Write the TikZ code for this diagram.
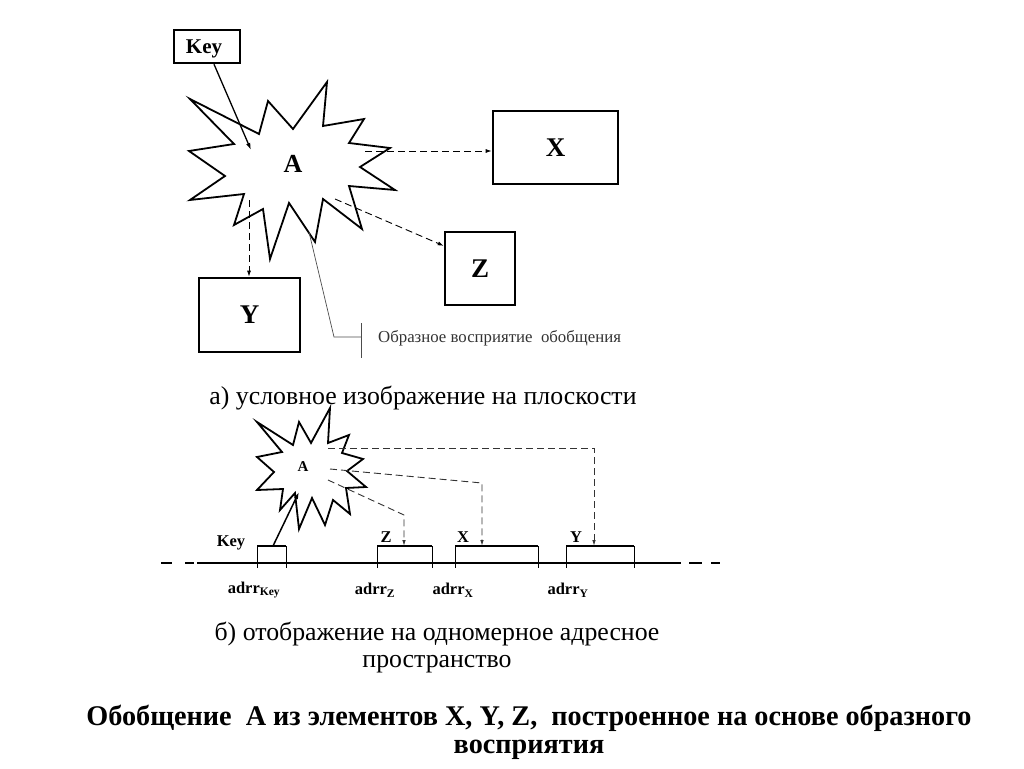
\documentclass[tikz,border=0pt]{standalone}
\usepackage{fontspec}
\setmainfont{Liberation Serif}
\newfontfamily\titlefont[FakeStretch=0.99]{Liberation Serif}
\usetikzlibrary{arrows.meta,calc}
\begin{document}
\begin{tikzpicture}[x=1pt,y=-1pt,
  bigbox/.style={draw,line width=2.6pt,inner sep=0pt,font=\bfseries\fontsize{27}{29}\selectfont},
  keybox/.style={draw,line width=2.4pt,inner sep=0pt,font=\bfseries\fontsize{21}{23}\selectfont},
  starline/.style={draw,line width=1.8pt,line join=miter,fill=white},
  darrow/.style={dash pattern=on 7pt off 4pt,line width=0.9pt,-{Latex[length=6pt,width=4pt]}},
  darrowlow/.style={dash pattern=on 7pt off 4pt,line width=0.9pt,draw=black!80,-{Latex[length=6pt,width=3.5pt]}},
  callout/.style={draw=black!70,line width=0.7pt},
  seg/.style={line width=2.6pt},
  tick/.style={line width=0.8pt},
  lowlab/.style={font=\bfseries\fontsize{16.5}{18}\selectfont,inner sep=0pt},
  adrlab/.style={font=\bfseries\fontsize{16.5}{18}\selectfont,inner sep=0pt},
  caption/.style={font=\fontsize{25.8}{27}\selectfont,align=center,inner sep=0pt},
  titletext/.style={inner sep=0pt,anchor=base,font=\titlefont\bfseries\fontsize{28.5}{30}\selectfont}
]
\useasboundingbox (0,0) rectangle (1024,768);

% ---------- part a ----------
\path[starline] (190,99) -- (259,134) -- (268,101) -- (293,129) -- (327,82) -- (323,126)
  -- (364,119) -- (349,143) -- (390,148) -- (360,167) -- (395,190) -- (349,186)
  -- (362,229) -- (323,199) -- (315,242) -- (289,203) -- (270,259) -- (263,209)
  -- (234,225) -- (244,194) -- (190,200) -- (225,176) -- (189,151) -- (234,144) -- cycle;
\node[font=\bfseries\fontsize{26}{28}\selectfont] (A) at (293,164) {A};

\node[keybox,minimum width=66pt,minimum height=33pt] (key) at (207,46.5) {};
\node[font=\bfseries\fontsize{21}{23}\selectfont,inner sep=0pt] (keytxt) at (204,49) {Key};
\node[bigbox,minimum width=125pt,minimum height=73pt] (X) at (555.5,147.5) {X};
\node[bigbox,minimum width=70pt,minimum height=73pt] (Z) at (480,268.5) {Z};
\node[bigbox,minimum width=101pt,minimum height=74pt] (Y) at (249.5,315) {Y};

\coordinate (keyin) at (251,150);
\coordinate (ax) at (365,151);
\coordinate (az) at (335,199);
\coordinate (ay) at (249,200);
\coordinate (cs) at (309,232);
\coordinate (cb) at (334,337);
\coordinate (cbar) at (361,337);

\draw[line width=1.3pt,-{Latex[length=7pt,width=4.5pt]}] ($(key.south)+(7,0)$) -- (keyin);
\draw[darrow] (ax) -- (ax -| X.west);
\draw[darrow] (az) -- ($(Z.north west)!0.2!(Z.south west)$);
\draw[darrow] (ay) -- (ay |- Y.north);

\draw[callout] (cs) -- (cb) -- (cbar);
\draw[callout] (361,323) -- (361,358);
\node[anchor=west,text=black!80,font=\fontsize{16.8}{18}\selectfont,inner sep=0pt] (cap) at (378,338) {Образное восприятие~~обобщения};

\node[caption] (capa) at (423,398) {а) условное изображение на плоскости};

% ---------- part b ----------
\draw[seg] (197,563) -- (681,563);
\draw[seg] (161,563) -- (172,563);
\draw[seg] (185,563) -- (194,563);
\draw[seg] (689,563) -- (702,563);
\draw[seg] (711,563) -- (720,563);

% segments with ticks
\foreach \a/\b in {257/286,377/432,455/538,566/634}{
  \draw[line width=2.8pt] (\a,546) -- (\b,546);
  \draw[tick] (\a,546) -- (\a,568);
  \draw[tick] (\b,546) -- (\b,568);
}

\path[starline] (257,422) -- (293,445) -- (299,422) -- (311,443) -- (330,408) -- (328,443)
  -- (349,435) -- (342,453) -- (363,459) -- (347,471) -- (366,487) -- (346,488)
  -- (350,514) -- (333,500) -- (325,525) -- (312,498) -- (299,529) -- (295,493)
  -- (280,510) -- (283,489) -- (257,490) -- (274,472) -- (257,457) -- (282,452) -- cycle;
\node[font=\bfseries\fontsize{15}{17}\selectfont] (A2) at (303,467) {A};

\coordinate (kseg) at (273,546);
\coordinate (a2in) at (299,492);
\draw[line width=1.5pt,-{Latex[length=7pt,width=4.5pt]}] (kseg) -- (a2in);

\coordinate (a2z) at (328,480);
\coordinate (a2x) at (330,469);
\coordinate (a2y) at (328,448);
\coordinate (zt) at (404,546);
\coordinate (xt) at (482,546);
\coordinate (yt) at (594,546);
\draw[darrowlow] (a2z) -- (zt |- 0,515) -- (zt);
\draw[darrowlow] (a2x) -- (xt |- 0,483) -- (xt);
\draw[darrowlow] (a2y) -- (yt |- a2y) -- (yt);

\node[lowlab] (lkey) at (231,543) {Key};
\node[lowlab] (lz) at (386,537) {Z};
\node[lowlab] (lx) at (463,537) {X};
\node[lowlab] (ly) at (576,537) {Y};

\node[adrlab] (adk) at (254,590) {adrr$_{\mathbf{Key}}$};
\node[adrlab] (adz) at (375,590) {adrr$_{\mathbf{Z}}$};
\node[adrlab] (adx) at (453,590) {adrr$_{\mathbf{X}}$};
\node[adrlab] (ady) at (568,590) {adrr$_{\mathbf{Y}}$};

\node[caption] (capb) at (437,648) {б) отображение на одномерное адресное\\пространство};

\node[titletext] (title1) at (529,725) {Обобщение~~A из элементов X, Y, Z,~~построенное на основе образного};
\node[titletext] (title2) at (529,753) {восприятия};
\end{tikzpicture}
\end{document}
